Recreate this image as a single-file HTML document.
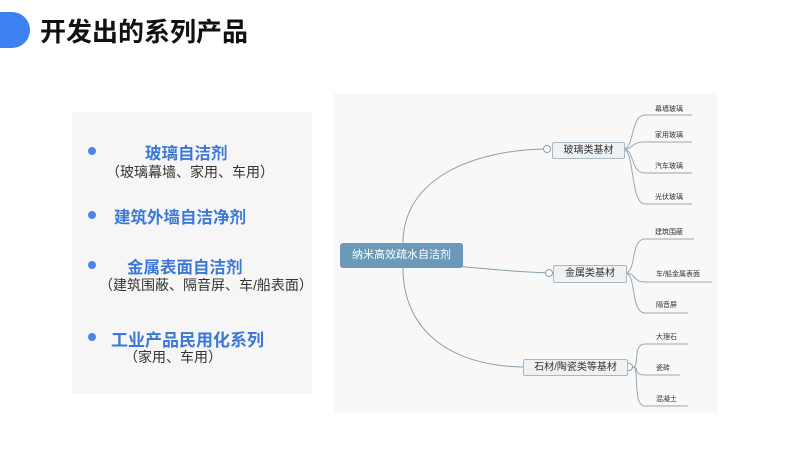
<!DOCTYPE html>
<html><head><meta charset="utf-8"><style>
body{margin:0;width:800px;height:450px;background:#fff;position:relative;overflow:hidden;font-family:"Liberation Sans","Noto Sans CJK SC",sans-serif}
.t{position:absolute;white-space:nowrap}
</style></head><body>
<div style="position:absolute;left:-10px;top:12px;width:40px;height:36px;background:#3d82f0;border-radius:0 18px 18px 0"></div>
<div class="t" style="left:40px;top:12px;font-size:26px;font-weight:bold;color:#111">开发出的系列产品</div>

<div style="position:absolute;left:72px;top:112px;width:240px;height:282px;background:#f6f6f6"></div>
<div style="position:absolute;left:88px;top:147px;width:8px;height:8px;border-radius:50%;background:#4a86e8"></div>
<div class="t" style="left:145px;top:140px;font-size:16.5px;font-weight:bold;color:#3c78d8">玻璃自洁剂</div>
<div class="t" style="left:106px;top:162px;font-size:14px;color:#333">（玻璃幕墙、家用、车用）</div>
<div style="position:absolute;left:88px;top:211px;width:8px;height:8px;border-radius:50%;background:#4a86e8"></div>
<div class="t" style="left:114px;top:204px;font-size:16.5px;font-weight:bold;color:#3c78d8">建筑外墙自洁净剂</div>
<div style="position:absolute;left:88px;top:261px;width:8px;height:8px;border-radius:50%;background:#4a86e8"></div>
<div class="t" style="left:127px;top:254px;font-size:16.5px;font-weight:bold;color:#3c78d8">金属表面自洁剂</div>
<div class="t" style="left:99px;top:275px;font-size:14px;color:#333">（建筑围蔽、隔音屏、车/船表面）</div>
<div style="position:absolute;left:88px;top:333px;width:8px;height:8px;border-radius:50%;background:#4a86e8"></div>
<div class="t" style="left:111px;top:326px;font-size:17px;font-weight:bold;color:#3c78d8">工业产品民用化系列</div>
<div class="t" style="left:124px;top:347px;font-size:14px;color:#333">（家用、车用）</div>

<div style="position:absolute;left:334px;top:93px;width:384px;height:320px;background:#f8f8f8"></div>
<svg style="position:absolute;left:0;top:0" width="800" height="450" fill="none" stroke="#8aa0ad" stroke-width="1">
<path d="M403 243 C403 180 470 150 547 149"/>
<path d="M403 268 C403 330 450 366 523 367"/>
<path d="M455 266 C500 270 520 272 550 273"/>
<circle cx="547" cy="149" r="3.5" fill="#fff"/>
<circle cx="549" cy="273" r="3.5" fill="#fff"/>
<circle cx="629" cy="367" r="3.5" fill="#fff"/>
<g stroke="#9aa8b0">
<path d="M623 149 C635 149 630 115 645 115 L692 115"/>
<path d="M623 149 C635 149 630 142 645 142 L692 142"/>
<path d="M623 149 C635 149 630 173 645 173 L692 173"/>
<path d="M623 149 C635 149 630 204 645 204 L692 204"/>
<path d="M625 273 C637 273 630 239 645 239 L694 239"/>
<path d="M625 273 C637 273 632 282 645 282 L712 282"/>
<path d="M625 273 C637 273 630 313 645 313 L688 313"/>
<path d="M633 367 C640 367 632 344 645 344 L688 344"/>
<path d="M633 367 C640 367 632 375 645 375 L680 375"/>
<path d="M633 367 C640 367 632 406 645 406 L688 406"/>
</g>
</svg>
<div class="t" style="left:340px;top:243px;width:123px;height:25px;background:#6b9ab9;border-radius:3px;color:#fff;font-size:11px;line-height:25px;text-align:center">纳米高效疏水自洁剂</div>
<div class="t" style="left:552px;top:142px;width:71px;height:15px;background:#eef2f5;border:1px solid #aab8c2;border-radius:2px;font-size:10px;line-height:15px;text-align:center;color:#333">玻璃类基材</div>
<div class="t" style="left:553px;top:265px;width:72px;height:16px;background:#eef2f5;border:1px solid #aab8c2;border-radius:2px;font-size:10px;line-height:16px;text-align:center;color:#333">金属类基材</div>
<div class="t" style="left:523px;top:359px;width:103px;height:15px;background:#eef2f5;border:1px solid #aab8c2;border-radius:2px;font-size:10px;line-height:15px;text-align:center;color:#333">石材/陶瓷类等基材</div>
<div style="font-size:7px;color:#333">
<div class="t" style="left:655px;top:104px">幕墙玻璃</div>
<div class="t" style="left:655px;top:130px">家用玻璃</div>
<div class="t" style="left:655px;top:161px">汽车玻璃</div>
<div class="t" style="left:655px;top:192px">光伏玻璃</div>
<div class="t" style="left:655px;top:227px">建筑围蔽</div>
<div class="t" style="left:656px;top:269px">车/船金属表面</div>
<div class="t" style="left:656px;top:300px">隔音屏</div>
<div class="t" style="left:656px;top:332px">大理石</div>
<div class="t" style="left:656px;top:363px">瓷砖</div>
<div class="t" style="left:656px;top:394px">混凝土</div>
</div>
</body></html>
